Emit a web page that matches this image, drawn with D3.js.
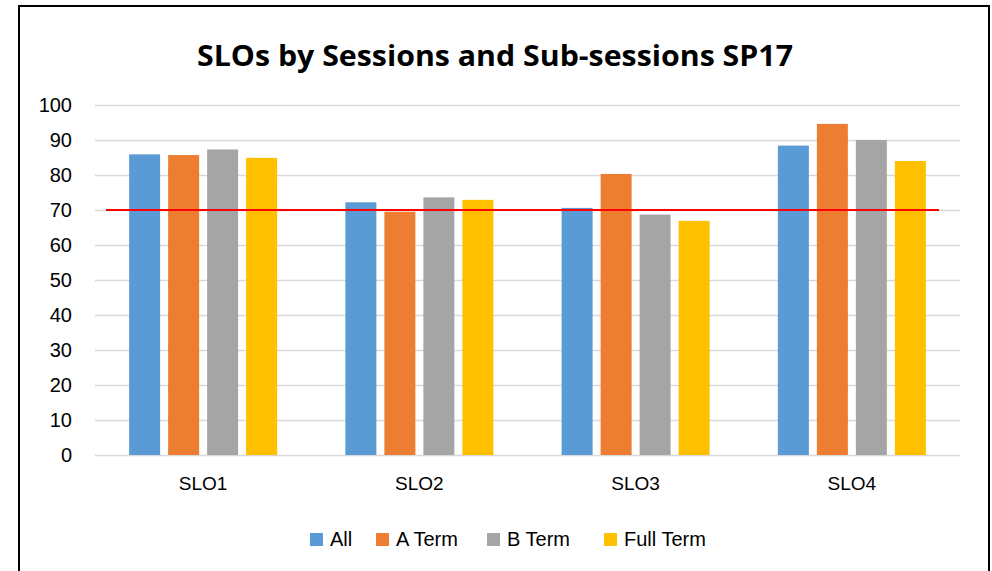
<!DOCTYPE html>
<html>
<head>
<meta charset="utf-8">
<script src="https://cdn.jsdelivr.net/npm/d3@7"></script>
<style>
  body { margin: 0; background: #fff; }
  svg { display: block; font-family: "Liberation Sans", Arial, sans-serif; }
</style>
</head>
<body>
<div id="chart"></div>
<script>
const categories = ['SLO1', 'SLO2', 'SLO3', 'SLO4'];
const seriesNames = ['All', 'A Term', 'B Term', 'Full Term'];
const allValues = [85.9, 72.2, 70.6, 88.4];
const aTermValues = [85.7, 69.5, 80.3, 94.6];
const bTermValues = [87.3, 73.6, 68.7, 90.0];
const fullTermValues = [84.9, 72.9, 66.9, 84.0];
const yTicks = [0, 10, 20, 30, 40, 50, 60, 70, 80, 90, 100];
const targetValue = 70;

const colors = { 'All': '#5B9BD5', 'A Term': '#ED7D31', 'B Term': '#A5A5A5', 'Full Term': '#FFC000' };
const seriesValues = { 'All': allValues, 'A Term': aTermValues, 'B Term': bTermValues, 'Full Term': fullTermValues };

const W = 992, H = 571;
const margin = { top: 105, right: 32, bottom: 116, left: 95 };
const w = W - margin.left - margin.right;
const h = H - margin.top - margin.bottom;

const root = d3.select('#chart').append('svg').attr('width', W).attr('height', H);

// chart frame (bottom edge runs off the picture)
root.append('rect').attr('x', 19).attr('y', 6).attr('width', 970).attr('height', 600)
  .attr('fill', '#fff').attr('stroke', '#000').attr('stroke-width', 2);

root.append('text').attr('x', 495).attr('y', 66).attr('text-anchor', 'middle')
  .attr('textLength', 596).attr('lengthAdjust', 'spacingAndGlyphs')
  .style('font-family', '"Open Sans", sans-serif').style('font-weight', 'bold').style('font-size', '28px')
  .style('fill', '#000').text('SLOs by Sessions and Sub-sessions SP17');

const svg = root.append('g').attr('transform', `translate(${margin.left},${margin.top})`);

const x0 = d3.scaleBand().domain(categories).range([0, w]).padding(0);
const x1 = d3.scaleBand().domain(seriesNames).range([0, x0.bandwidth()]).paddingInner(0.205).paddingOuter(0.875);
const y = d3.scaleLinear().domain([0, 100]).range([h, 0]);

svg.append('g').attr('class', 'grid')
  .call(d3.axisLeft(y).tickValues(yTicks).tickSize(-w).tickFormat(() => ''))
  .call(g => g.select('.domain').remove())
  .selectAll('line').style('stroke', '#D9D9D9').style('stroke-width', 1.3);

svg.append('g').attr('class', 'y-axis').attr('transform', 'translate(-23,0)')
  .call(d3.axisLeft(y).tickValues(yTicks).tickSize(0).tickPadding(0))
  .call(g => g.select('.domain').remove())
  .selectAll('text').style('font-size', '20px').style('fill', '#000').style('font-family', '"Liberation Sans", Arial, sans-serif');

svg.append('g').attr('class', 'x-axis').attr('transform', `translate(0,${h})`)
  .call(d3.axisBottom(x0).tickSize(0).tickPadding(22))
  .call(g => g.select('.domain').remove())
  .selectAll('text').style('font-size', '19px').style('fill', '#000').style('font-family', '"Liberation Sans", Arial, sans-serif');

svg.selectAll('.group').data(categories).join('g').attr('class', 'group')
  .attr('transform', d => `translate(${x0(d)},0)`)
  .selectAll('rect').data((d, i) => seriesNames.map(s => ({ key: s, value: seriesValues[s][i] })))
  .join('rect')
  .attr('x', d => x1(d.key)).attr('y', d => y(d.value))
  .attr('width', x1.bandwidth()).attr('height', d => h - y(d.value))
  .attr('fill', d => colors[d.key]);

// target line at 70
svg.append('line')
  .attr('x1', x0.range()[0] + 11).attr('x2', x0.range()[1] - 21)
  .attr('y1', y(targetValue)).attr('y2', y(targetValue))
  .attr('stroke', '#FF0000').attr('stroke-width', 2);

// legend
const legendX = [310, 376, 487, 604];
const legend = root.append('g').selectAll('g').data(seriesNames).join('g')
  .attr('transform', (d, i) => `translate(${legendX[i]},533)`);
legend.append('rect').attr('width', 13).attr('height', 13).attr('fill', d => colors[d]);
legend.append('text').attr('x', 20).attr('y', 13).style('font-size', '20px').style('fill', '#000').text(d => d);
</script>
</body>
</html>
